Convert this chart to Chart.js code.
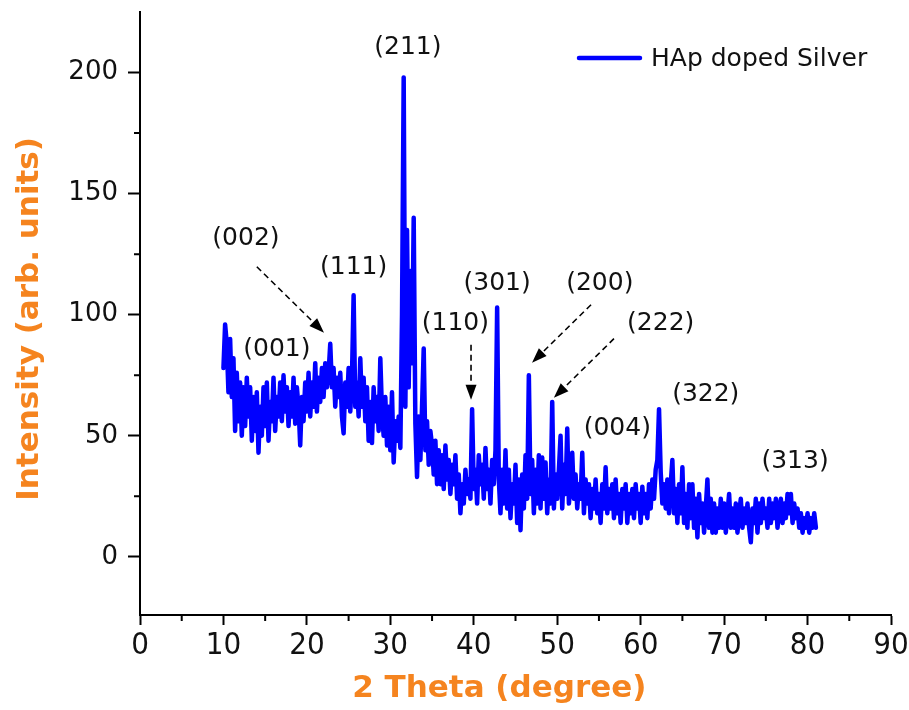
<!DOCTYPE html>
<html>
<head>
<meta charset="utf-8">
<script src="https://cdn.jsdelivr.net/npm/chart.js@4.4.1/dist/chart.umd.min.js"></script>
<style>
  body { margin: 0; background: #fff; }
  canvas { display: block; }
</style>
</head>
<body>
<canvas id="xrd_chart" width="909" height="710"></canvas>
<script>
// scan settings (2 theta, degrees)
const scanStart = 10;
const scanStep = 0.2;

// intensity, one row per degree (x.0 x.2 x.4 x.6 x.8)
const intensity = [
    78, 96, 88, 68, 90,    // 10
    66, 82, 52, 76, 56,    // 11
    72, 50, 70, 54, 74,    // 12
    58, 70, 48, 66, 52,    // 13
    68, 43, 62, 50, 70,    // 14
    54, 72, 48, 64, 56,    // 15
    74, 52, 66, 58, 72,    // 16
    56, 75, 60, 70, 54,    // 17
    68, 58, 74, 55, 70,    // 18
    62, 46, 66, 56, 72,    // 19
    60, 76, 58, 72, 62,    // 20
    80, 60, 74, 64, 78,    // 21
    66, 80, 70, 76, 88,    // 22
    70, 78, 62, 74, 66,    // 23
    76, 58, 51, 72, 62,    // 24
    78, 60, 74, 108, 62,   // 25
    72, 58, 82, 62, 74,    // 26
    56, 70, 48, 64, 47,    // 27
    70, 56, 66, 52, 82,    // 28
    60, 50, 66, 46, 62,    // 29
    44, 68, 39, 56, 48,    // 30
    58, 45, 100, 198, 62,  // 31
    135, 70, 118, 80, 140, // 32
    55, 33, 58, 40, 62,    // 33
    86, 44, 56, 38, 52,    // 34
    46, 34, 48, 30, 44,    // 35
    30, 42, 28, 46, 32,    // 36
    40, 26, 38, 30, 42,    // 37
    24, 34, 18, 30, 22,    // 38
    36, 26, 32, 24, 61,    // 39
    28, 36, 22, 42, 30,    // 40
    38, 24, 45, 28, 36,    // 41
    22, 40, 30, 44, 103,   // 42
    32, 18, 36, 22, 44,    // 43
    20, 36, 16, 30, 22,    // 44
    38, 14, 32, 11, 34,    // 45
    20, 42, 24, 75, 26,    // 46
    40, 18, 36, 22, 42,    // 47
    20, 41, 24, 39, 18,    // 48
    32, 22, 64, 20, 34,    // 49
    24, 36, 50, 20, 38,    // 50
    26, 53, 22, 30, 43,    // 51
    24, 34, 20, 30, 24,    // 52
    43, 18, 32, 22, 30,    // 53
    16, 28, 20, 32, 18,    // 54
    26, 14, 30, 20, 37,    // 55
    18, 28, 20, 30, 16,    // 56
    32, 18, 26, 14, 28,    // 57
    20, 30, 14, 26, 18,    // 58
    28, 16, 30, 20, 26,    // 59
    14, 29, 18, 26, 16,    // 60
    30, 20, 32, 24, 36,    // 61
    40, 61, 35, 22, 30,    // 62
    20, 32, 18, 30, 40,    // 63
    18, 28, 14, 30, 18,    // 64
    37, 14, 26, 12, 30,    // 65
    16, 30, 12, 24, 8,     // 66
    26, 14, 22, 10, 20,    // 67
    32, 12, 24, 10, 22,    // 68
    10, 20, 12, 24, 12,    // 69
    22, 10, 18, 26, 12,    // 70
    20, 12, 22, 10, 18,    // 71
    24, 12, 20, 14, 22,    // 72
    12, 6, 20, 14, 24,     // 73
    10, 22, 14, 24, 16,    // 74
    20, 12, 24, 14, 22,    // 75
    16, 24, 12, 20, 24,    // 76
    14, 22, 16, 26, 18,    // 77
    26, 14, 22, 16, 20,    // 78
    12, 18, 10, 16, 12,    // 79
    18, 10, 16, 12, 18,    // 80
    12                     // 81
];

const xTicks = [0, 10, 20, 30, 40, 50, 60, 70, 80, 90];
const xMinorTicks = [5, 15, 25, 35, 45, 55, 65, 75, 85];
const yTicks = [0, 50, 100, 150, 200];
const yMinorTicks = [25, 75, 125, 175];

// peak labels: text, 2theta, intensity (label centre)
const peakLabels = ['(211)', '(002)', '(111)', '(001)', '(110)', '(301)', '(200)', '(222)', '(004)', '(322)', '(313)'];
const peakLabelX = [32.1, 12.7, 25.6, 16.4, 37.8, 42.8, 55.1, 62.4, 57.2, 67.8, 78.5];
const peakLabelY = [210.5, 131.5, 119.5, 85.5, 96.5, 113, 113, 96.5, 53, 67, 39.5];

// dashed arrows: from (x0, y0) to the tip (x1, y1)
const arrowX0 = [14.0, 39.67, 54.05, 56.8];
const arrowY0 = [119.8, 87.6, 104.1, 90.1];
const arrowX1 = [22.05, 39.67, 46.98, 49.6];
const arrowY1 = [92.6, 64.9, 80.2, 65.7];

const seriesName = 'HAp doped Silver';
const lineColor = '#0000ff';
const titleColor = '#f5841f';

let points = [];
for (let i = 0; i < intensity.length; i++) {
    points.push({ x: Math.round((scanStart + i * scanStep) * 10) / 10, y: intensity[i] });
}

const extrasPlugin = {
    id: 'extras',
    afterDraw(chart) {
        const ctx = chart.ctx;
        const xs = chart.scales.x;
        const ys = chart.scales.y;
        const area = chart.chartArea;

        ctx.save();
        // minor ticks
        ctx.strokeStyle = '#000';
        ctx.lineWidth = 2;
        ctx.beginPath();
        xMinorTicks.forEach(v => {
            const px = xs.getPixelForValue(v);
            ctx.moveTo(px, area.bottom);
            ctx.lineTo(px, area.bottom + 6);
        });
        yMinorTicks.forEach(v => {
            const py = ys.getPixelForValue(v);
            ctx.moveTo(area.left, py);
            ctx.lineTo(area.left - 6, py);
        });
        ctx.stroke();

        // peak labels
        ctx.fillStyle = '#111';
        ctx.font = '25px "DejaVu Sans"';
        ctx.textAlign = 'center';
        ctx.textBaseline = 'middle';
        for (let i = 0; i < peakLabels.length; i++) {
            ctx.fillText(peakLabels[i], xs.getPixelForValue(peakLabelX[i]), ys.getPixelForValue(peakLabelY[i]));
        }

        // arrows
        for (let i = 0; i < arrowX0.length; i++) {
            const x0 = xs.getPixelForValue(arrowX0[i]);
            const y0 = ys.getPixelForValue(arrowY0[i]);
            const x1 = xs.getPixelForValue(arrowX1[i]);
            const y1 = ys.getPixelForValue(arrowY1[i]);
            const ang = Math.atan2(y1 - y0, x1 - x0);
            const headLen = 15;
            const headW = 5.5;
            const bx = x1 - headLen * Math.cos(ang);
            const by = y1 - headLen * Math.sin(ang);

            ctx.setLineDash([6, 4]);
            ctx.lineWidth = 1.6;
            ctx.strokeStyle = '#000';
            ctx.beginPath();
            ctx.moveTo(x0, y0);
            ctx.lineTo(bx, by);
            ctx.stroke();
            ctx.setLineDash([]);

            ctx.fillStyle = '#000';
            ctx.beginPath();
            ctx.moveTo(x1, y1);
            ctx.lineTo(bx + headW * Math.sin(ang), by - headW * Math.cos(ang));
            ctx.lineTo(bx - headW * Math.sin(ang), by + headW * Math.cos(ang));
            ctx.closePath();
            ctx.fill();
        }

        // legend
        const lx = area.right - 312;
        const ly = area.top + 46;
        ctx.strokeStyle = lineColor;
        ctx.lineWidth = 4.5;
        ctx.lineCap = 'round';
        ctx.beginPath();
        ctx.moveTo(lx, ly);
        ctx.lineTo(lx + 61, ly);
        ctx.stroke();
        ctx.fillStyle = '#111';
        ctx.font = '25px "DejaVu Sans"';
        ctx.textAlign = 'left';
        ctx.textBaseline = 'middle';
        ctx.fillText(seriesName, lx + 72, ly + 1);
        ctx.restore();
    }
};

const ctx = document.getElementById('xrd_chart');

new Chart(ctx, {
    type: 'line',
    data: {
        datasets: [{
            label: seriesName,
            data: points,
            borderColor: lineColor,
            backgroundColor: lineColor,
            borderWidth: 4.5,
            pointRadius: 0,
            tension: 0,
            borderJoinStyle: 'round',
            borderCapStyle: 'round'
        }]
    },
    options: {
        responsive: false,
        animation: false,
        layout: { padding: { top: 12, right: 18, left: 0, bottom: 0 } },
        plugins: {
            legend: { display: false },
            tooltip: { enabled: false }
        },
        scales: {
            x: {
                type: 'linear',
                min: 0,
                max: 90,
                afterBuildTicks: s => { s.ticks = xTicks.map(v => ({ value: v })); },
                afterFit: s => { s.height = 95; s.paddingLeft = 0; s.paddingRight = 0; },
                border: { color: '#000', width: 2 },
                grid: { drawOnChartArea: false, drawTicks: true, tickLength: 10, tickColor: '#000', tickWidth: 2 },
                ticks: {
                    color: '#111',
                    padding: 2,
                    maxRotation: 0,
                    font: { family: '"Liberation Sans Narrow", "DejaVu Sans Condensed", sans-serif', size: 31 }
                },
                title: {
                    display: true,
                    text: '2 Theta (degree)   ',
                    color: titleColor,
                    padding: { top: 0, bottom: 2 },
                    font: { family: '"DejaVu Sans", sans-serif', size: 31, weight: 'bold' }
                }
            },
            y: {
                min: -24,
                max: 225,
                afterBuildTicks: s => { s.ticks = yTicks.map(v => ({ value: v })); },
                afterFit: s => { s.width = 140; s.paddingTop = 0; s.paddingBottom = 0; },
                border: { color: '#000', width: 2 },
                grid: { drawOnChartArea: false, drawTicks: true, tickLength: 12, tickColor: '#000', tickWidth: 2 },
                ticks: {
                    color: '#111',
                    padding: 10,
                    font: { family: '"DejaVu Sans"', size: 26 }
                },
                title: {
                    display: true,
                    text: 'Intensity (arb. units) ',
                    color: titleColor,
                    padding: { top: 11, bottom: 0 },
                    font: { family: '"DejaVu Sans", sans-serif', size: 31, weight: 'bold' }
                }
            }
        }
    },
    plugins: [extrasPlugin]
});
</script>
</body>
</html>
